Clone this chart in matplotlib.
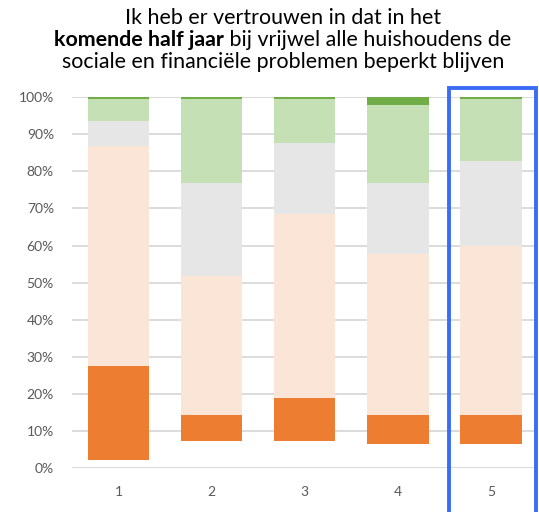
import matplotlib
matplotlib.use("Agg")
from matplotlib import pyplot as plt
from matplotlib.patches import Rectangle
import numpy as np

# data (share of respondents, %), stacked bottom -> top
categories = ["1", "2", "3", "4", "5"]
blank = [2.2, 7.35, 7.35, 6.5, 6.5]
dark_orange = [25.4, 7.05, 11.5, 7.85, 7.85]
peach = [59.1, 37.4, 49.65, 43.35, 45.55]
grey = [6.8, 25.0, 19.0, 19.1, 22.9]
light_green = [6.0, 22.6, 11.9, 21.0, 16.6]
dark_green = [0.5, 0.6, 0.6, 2.2, 0.6]

yticks = [0, 10, 20, 30, 40, 50, 60, 70, 80, 90, 100]
ytick_labels = [f"{t}%" for t in yticks]

title_l1 = "Ik heb er vertrouwen in dat in het"
title_bold = "komende half jaar"
title_l2 = " bij vrijwel alle huishoudens de"
title_l3 = "sociale en financiële problemen beperkt blijven"

plt.rcParams["font.family"] = ["Lato", "DejaVu Sans"]

W, H = 539, 512
fig = plt.figure(figsize=(W / 100, H / 100), dpi=100)
ax = fig.add_axes([72 / W, (H - 468.3) / H, (537.5 - 72) / W, (468.3 - 97) / H])

x = np.arange(1, len(categories) + 1)
segments = [
    (blank, "none"),
    (dark_orange, "#ED7D31"),
    (peach, "#FBE5D6"),
    (grey, "#E6E6E6"),
    (light_green, "#C5E0B4"),
    (dark_green, "#70AD47"),
]
bottom = np.zeros(len(categories))
for vals, col in segments:
    vals = np.array(vals)
    ax.bar(x, vals, bottom=bottom, width=0.66, color=col, edgecolor="none", zorder=2)
    bottom += vals

ax.set_xlim(0.5, 5.5)
ax.set_ylim(0, 100)
ax.set_yticks(yticks)
ax.set_yticklabels(ytick_labels)
ax.set_xticks(x)
ax.set_xticklabels(categories)
ax.grid(axis="y", color="#D9D9D9", linewidth=1.3, zorder=0)
ax.set_axisbelow(True)
for s in ax.spines.values():
    s.set_visible(False)
ax.tick_params(axis="both", length=0, labelsize=10, labelcolor="#595959")
ax.tick_params(axis="y", pad=13)
ax.tick_params(axis="x", pad=13)

# blue highlight box around the last bar
fig.patches.append(Rectangle((448.7 / W, -0.02), (536.3 - 448.7) / W, (H - 88.3) / H + 0.02,
                             transform=fig.transFigure, fill=False,
                             edgecolor="#3B6CF6", linewidth=2.8, zorder=5))

# title, second line partly bold
cx = 283 / W
tsize = 15.4
fig.text(cx, 1 - 18 / H, title_l1, ha="center", va="center", fontsize=tsize, color="black")
fig.text(cx, 1 - 62 / H, title_l3, ha="center", va="center", fontsize=tsize, color="black")
r = fig.canvas.get_renderer()
tb = fig.text(0, 1 - 40 / H, title_bold, ha="left", va="center", fontsize=tsize, fontweight="bold")
tn = fig.text(0, 1 - 40 / H, title_l2, ha="left", va="center", fontsize=tsize)
wb = tb.get_window_extent(r).width
wn = tn.get_window_extent(r).width
x0 = cx * W - (wb + wn) / 2
tb.set_x(x0 / W)
tn.set_x((x0 + wb) / W)

fig.savefig("out.png", dpi=100)
